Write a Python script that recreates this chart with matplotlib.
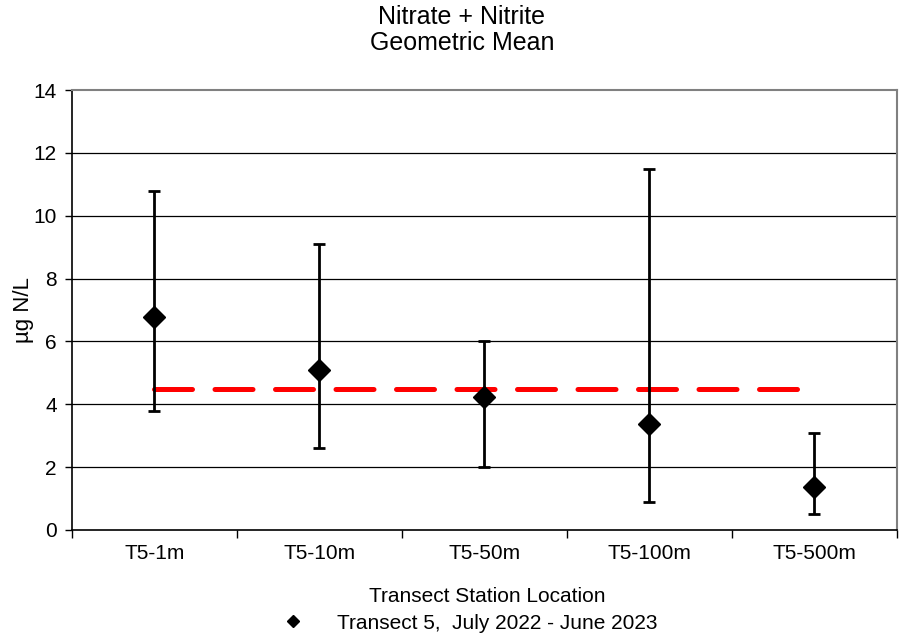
import numpy as np
import matplotlib
matplotlib.use("Agg")
import matplotlib.pyplot as plt
from matplotlib.lines import Line2D

plt.rcParams["font.family"] = ["Liberation Sans", "DejaVu Sans"]

stations = ["T5-1m", "T5-10m", "T5-50m", "T5-100m", "T5-500m"]
geo_mean = [6.78, 5.10, 4.23, 3.37, 1.37]
upper = [10.8, 9.1, 6.0, 11.5, 3.1]
lower = [3.8, 2.6, 2.0, 0.9, 0.5]
overall_mean = 4.5

x = np.arange(len(stations))
gm = np.array(geo_mean)
yerr = [gm - np.array(lower), np.array(upper) - gm]

fig = plt.figure(figsize=(9.11, 6.39), dpi=100)
ax = fig.add_axes([0.079, 0.1706, 0.9056, 0.6884])

ax.set_ylim(0, 14)
ax.set_xlim(-0.5, len(stations) - 0.5)
ax.set_yticks(np.arange(0, 15, 2))
for y in range(2, 14, 2):
    ax.axhline(y, color="black", lw=0.9, zorder=1)

ax.plot([x[0], x[-1]], [overall_mean, overall_mean], color="#ff0000", lw=3.6,
        dashes=(7.6, 4.5), dash_capstyle="round", zorder=2)

ax.errorbar(x, gm, yerr=yerr, fmt="D", color="black", ms=11, elinewidth=2,
            capsize=4.3, capthick=2, zorder=3)

# category ticks at boundaries, labels centred
ax.set_xticks(np.arange(-0.5, len(stations), 1.0))
ax.set_xticklabels([])
ax.set_xticks(x, minor=True)
ax.set_xticklabels(stations, minor=True, fontsize=15)
ax.tick_params(axis="x", which="minor", length=0, pad=10)
ax.tick_params(axis="x", which="major", length=6, width=1, direction="out")
ax.tick_params(axis="y", length=5, width=1, labelsize=15, pad=6)

for s in ["top", "right"]:
    ax.spines[s].set_color("#808080")
    ax.spines[s].set_linewidth(1.5)
for s in ["left", "bottom"]:
    ax.spines[s].set_color("black")
    ax.spines[s].set_linewidth(1.2)

ax.set_ylabel("µg N/L", fontsize=16)
ax.yaxis.set_label_coords(-0.046, 0.5)
fig.text(0.507, 0.953, "Nitrate + Nitrite\nGeometric Mean", ha="center", va="center",
         fontsize=18, linespacing=1.12)
fig.text(0.535, 0.067, "Transect Station Location", ha="center", va="center", fontsize=15)

handle = Line2D([], [], marker="D", color="black", ls="none", ms=6.5)
fig.legend([handle], ["Transect 5,  July 2022 - June 2023"], loc="center",
           bbox_to_anchor=(0.516, 0.025), frameon=False, fontsize=15,
           handlelength=1.0, handletextpad=1.6, borderpad=0, borderaxespad=0)

fig.savefig("out.png", dpi=100)
